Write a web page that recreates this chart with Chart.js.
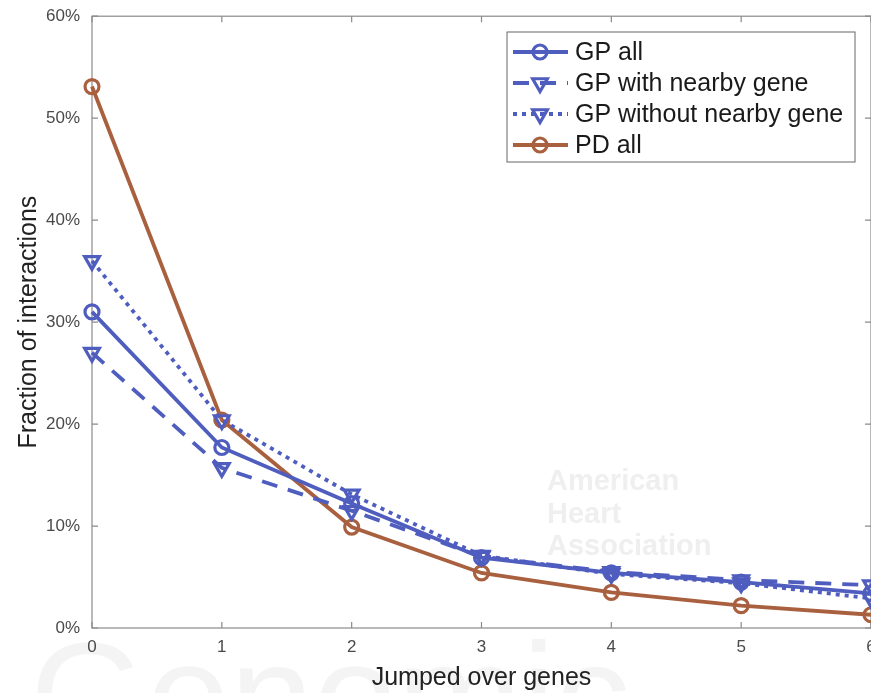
<!DOCTYPE html>
<html>
<head>
<meta charset="utf-8">
<script src="https://cdn.jsdelivr.net/npm/chart.js@4"></script>
<style>
  html, body { margin: 0; padding: 0; background: #fff; overflow: hidden; }
  #wrap { position: relative; top: -6px; width: 900px; height: 699px; }
</style>
</head>
<body>
<div id="wrap"><canvas id="chart"></canvas></div>
<script>
const jumps = [0, 1, 2, 3, 4, 5, 6];
const gpAll = [31.0, 17.7, 12.2, 6.9, 5.4, 4.5, 3.4];
const gpNearby = [27.0, 15.7, 11.5, 7.0, 5.5, 4.7, 4.2];
const gpNoNearby = [36.0, 20.4, 13.1, 7.1, 5.3, 4.4, 2.9];
const pdAll = [53.1, 20.4, 9.9, 5.4, 3.5, 2.2, 1.3];
const yTicks = [0, 10, 20, 30, 40, 50, 60];

const BLUE = '#4f5dbf';
const BROWN = '#a9603f';
const AXIS = '#8a8a8a';
const FONT = '"Liberation Sans", Arial, sans-serif';
const SHIFT = 6; // canvas sits 6px above the page top

const toPoints = (vals) => vals.map((v, i) => ({ x: jumps[i], y: v }));

const series = (label, values, color, style, dash) => ({
    label,
    data: toPoints(values),
    borderColor: color,
    backgroundColor: 'rgba(255,255,255,0)',
    borderWidth: 3.8,
    borderDash: dash,
    pointStyle: style,
    pointRotation: style === 'triangle' ? 180 : 0,
    pointRadius: style === 'triangle' ? 8.5 : 7,
    pointBorderWidth: 3.2,
    pointBorderColor: color,
    pointBackgroundColor: 'rgba(255,255,255,0)',
    tension: 0,
    clip: false,
});

// faint watermark text behind the plot
const watermark = {
    id: 'watermark',
    beforeDraw(chart) {
        const { ctx } = chart;
        ctx.save();
        ctx.translate(0, SHIFT);
        ctx.fillStyle = '#f4f4f4';
        ctx.font = '150px ' + FONT;
        ctx.textBaseline = 'alphabetic';
        ctx.fillText('Genomic', 30, 748);
        ctx.fillStyle = '#efefef';
        ctx.font = 'bold 29px ' + FONT;
        ctx.fillText('American', 547, 490);
        ctx.fillText('Heart', 547, 523);
        ctx.fillText('Association', 547, 555);
        ctx.restore();
    },
};

// matlab-style box with inward ticks
const boxAxes = {
    id: 'boxAxes',
    beforeDatasetsDraw(chart) {
        const { ctx, chartArea: a, scales } = chart;
        const len = 6;
        ctx.save();
        ctx.strokeStyle = AXIS;
        ctx.lineWidth = 1.2;
        ctx.strokeRect(a.left, a.top, a.right - a.left, a.bottom - a.top);
        ctx.beginPath();
        scales.x.ticks.forEach((t) => {
            const px = scales.x.getPixelForValue(t.value);
            ctx.moveTo(px, a.bottom); ctx.lineTo(px, a.bottom - len);
            ctx.moveTo(px, a.top); ctx.lineTo(px, a.top + len);
        });
        scales.y.ticks.forEach((t) => {
            const py = scales.y.getPixelForValue(t.value);
            ctx.moveTo(a.left, py); ctx.lineTo(a.left + len, py);
            ctx.moveTo(a.right, py); ctx.lineTo(a.right - len, py);
        });
        ctx.stroke();
        ctx.restore();
    },
};

// legend drawn with each dataset's own line style and marker
const boxLegend = {
    id: 'boxLegend',
    afterDraw(chart) {
        const { ctx } = chart;
        const bx = 507, by = 32 + SHIFT, bw = 348, bh = 130;
        ctx.save();
        ctx.fillStyle = '#fff';
        ctx.fillRect(bx, by, bw, bh);
        ctx.strokeStyle = '#666';
        ctx.lineWidth = 1;
        ctx.strokeRect(bx, by, bw, bh);
        chart.data.datasets.forEach((ds, i) => {
            const y = by + 20 + i * 31;
            ctx.strokeStyle = ds.borderColor;
            ctx.lineWidth = ds.borderWidth;
            ctx.setLineDash(ds.borderDash || []);
            ctx.beginPath();
            ctx.moveTo(bx + 6, y);
            ctx.lineTo(bx + 61, y);
            ctx.stroke();
            ctx.setLineDash([]);
            ctx.lineWidth = ds.pointBorderWidth;
            ctx.fillStyle = 'rgba(255,255,255,0)';
            Chart.helpers.drawPoint(ctx, {
                pointStyle: ds.pointStyle,
                rotation: ds.pointRotation,
                radius: ds.pointRadius,
                borderWidth: ds.pointBorderWidth,
            }, bx + 33, y);
            ctx.fillStyle = '#1a1a1a';
            ctx.font = '25px ' + FONT;
            ctx.textBaseline = 'middle';
            ctx.fillText(ds.label, bx + 68, y + 1);
        });
        ctx.restore();
    },
};

new Chart(document.getElementById('chart'), {
    type: 'line',
    data: {
        datasets: [
            series('GP all', gpAll, BLUE, 'circle', []),
            series('GP with nearby gene', gpNearby, BLUE, 'triangle', [16, 11]),
            series('GP without nearby gene', gpNoNearby, BLUE, 'triangle', [4, 5]),
            series('PD all', pdAll, BROWN, 'circle', []),
        ],
    },
    options: {
        responsive: true,
        maintainAspectRatio: false,
        animation: false,
        layout: { padding: { top: 7, right: 29, left: 0, bottom: 0 } },
        plugins: { legend: { display: false }, tooltip: { enabled: false } },
        scales: {
            x: {
                type: 'linear',
                min: 0,
                max: 6,
                afterFit: (s) => { s.height = 65; },
                grid: { display: false, drawTicks: false },
                border: { display: false },
                ticks: {
                    stepSize: 1,
                    padding: 9,
                    color: '#4a4a4a',
                    font: { family: FONT, size: 17 },
                },
                title: {
                    display: true,
                    text: 'Jumped over genes',
                    color: '#222',
                    font: { family: FONT, size: 25 },
                    padding: { top: 0, bottom: 0 },
                },
            },
            y: {
                min: 0,
                max: 60,
                afterFit: (s) => { s.width = 92; },
                afterBuildTicks: (s) => { s.ticks = yTicks.map((v) => ({ value: v })); },
                grid: { display: false, drawTicks: false },
                border: { display: false },
                ticks: {
                    padding: 12,
                    color: '#4a4a4a',
                    font: { family: FONT, size: 17 },
                    callback: (v) => v + '%',
                },
                title: {
                    display: true,
                    text: 'Fraction of interactions',
                    color: '#222',
                    font: { family: FONT, size: 25 },
                    padding: { top: 14, bottom: 0 },
                },
            },
        },
    },
    plugins: [watermark, boxAxes, boxLegend],
});
</script>
</body>
</html>
